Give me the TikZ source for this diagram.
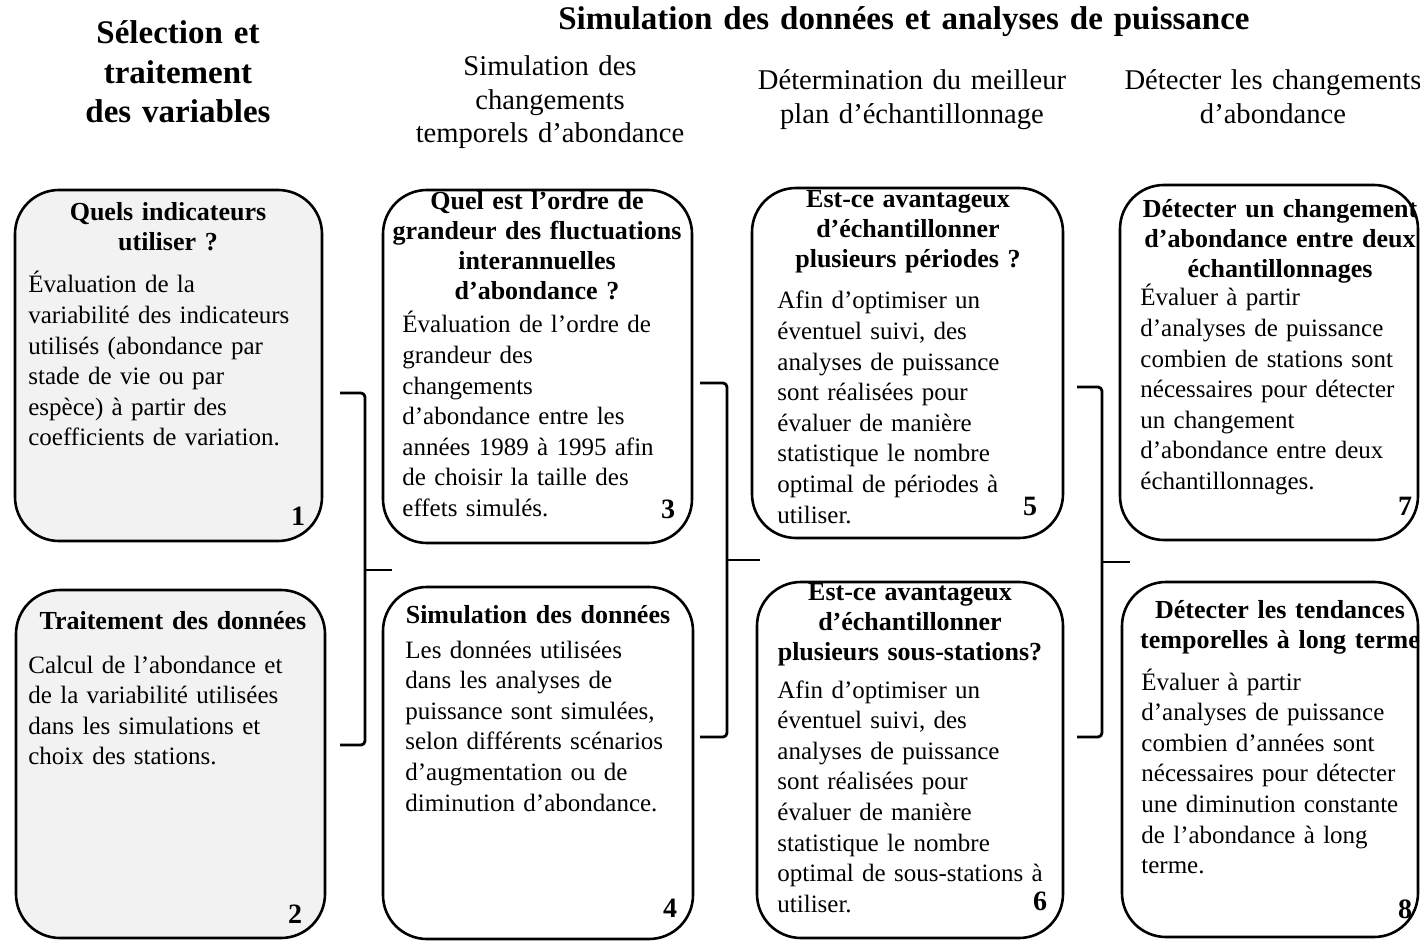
\documentclass[tikz,border=0pt]{standalone}
\usepackage{fontspec}
\setmainfont{Liberation Serif}
\usetikzlibrary{fit}
\newcommand{\bodysize}{\fontsize{12.5}{15.3}\selectfont}
\newcommand{\headsize}{\fontsize{13}{15}\selectfont\bfseries}
\begin{document}
\begin{tikzpicture}[x=0.5pt,y=-0.5pt,line join=round,
    panel/.style={draw,line width=1.3pt,rounded corners=22pt,inner sep=0pt},
    grey panel/.style={panel,fill=black!5},
    panel head/.style={anchor=base,inner sep=0pt,text width=160pt,align=center,font=\headsize},
    panel body/.style={anchor=base west,inner sep=0pt,text width=145pt,align=left,font=\bodysize},
    panel num/.style={anchor=base,inner sep=0pt,font=\fontsize{14}{14}\selectfont\bfseries},
    col head/.style={anchor=base,inner sep=0pt,align=center,font=\fontsize{16.5}{19.75}\selectfont\bfseries},
    col sub/.style={anchor=base,inner sep=0pt,align=center,font=\fontsize{14.3}{16.75}\selectfont},
    brace/.style={line width=1.4pt,rounded corners=2pt}]
  \useasboundingbox (0,0) rectangle (1420,941);

  % column titles
  \node[col head,text width=110pt] (selhead) at (178,44) {Sélection et\\traitement\\des variables};
  \node[col head,text width=360pt] (simhead) at (904,30) {Simulation des données et analyses de puissance};
  \node[col sub,text width=150pt] (sub1) at (550,76) {Simulation des\\changements\\temporels d'abondance};
  \node[col sub,text width=160pt] (sub2) at (912,90) {Détermination du meilleur\\plan d'échantillonnage};
  \node[col sub,text width=155pt] (sub3) at (1273,90) {Détecter les changements\\d'abondance};

  % panels
  \node[grey panel,fit={(15,190)(322,541)}] (p1) {};
  \node[grey panel,fit={(16,590)(325,938)}] (p2) {};
  \node[panel,fit={(383,190)(692,543)}] (p3) {};
  \node[panel,fit={(383,587)(693,939)}] (p4) {};
  \node[panel,fit={(752,188)(1063,538)}] (p5) {};
  \node[panel,fit={(757,582)(1063,938)}] (p6) {};
  \node[panel,fit={(1120,185)(1418,540)}] (p7) {};
  \node[panel,fit={(1122,582)(1418,937)}] (p8) {};

  % panel texts
  \node[panel head] (t1) at (168,221) {Quels indicateurs\\utiliser ?};
  \node[panel body] (d1) at (28,293) {Évaluation de la\\variabilité des indicateurs\\utilisés (abondance par\\stade de vie ou par\\espèce) à partir des\\coefficients de variation.};
  \node[panel head] (t2) at (173,629) {Traitement des données};
  \node[panel body] (d2) at (28,673) {Calcul de l'abondance et\\de la variabilité utilisées\\dans les simulations et\\choix des stations.};
  \node[panel head] (t3) at (537,210) {Quel est l'ordre de\\grandeur des fluctuations\\interannuelles\\d'abondance ?};
  \node[panel body] (d3) at (402,333) {Évaluation de l'ordre de\\grandeur des\\changements\\d'abondance entre les\\années 1989 à 1995 afin\\de choisir la taille des\\effets simulés.};
  \node[panel head] (t4) at (538,623) {Simulation des données};
  \node[panel body] (d4) at (405,658) {Les données utilisées\\dans les analyses de\\puissance sont simulées,\\selon différents scénarios\\d'augmentation ou de\\diminution d'abondance.};
  \node[panel head] (t5) at (908,208) {Est-ce avantageux\\d'échantillonner\\plusieurs périodes ?};
  \node[panel body] (d5) at (777,309) {Afin d'optimiser un\\éventuel suivi, des\\analyses de puissance\\sont réalisées pour\\évaluer de manière\\statistique le nombre\\optimal de périodes à\\utiliser.};
  \node[panel head] (t6) at (910,600) {Est-ce avantageux\\d'échantillonner\\plusieurs sous-stations?};
  \node[panel body] (d6) at (777,698) {Afin d'optimiser un\\éventuel suivi, des\\analyses de puissance\\sont réalisées pour\\évaluer de manière\\statistique le nombre\\optimal de sous-stations à\\utiliser.};
  \node[panel head] (t7) at (1280,218) {Détecter un changement\\d'abondance entre deux\\échantillonnages};
  \node[panel body] (d7) at (1140,306) {Évaluer à partir\\d'analyses de puissance\\combien de stations sont\\nécessaires pour détecter\\un changement\\d'abondance entre deux\\échantillonnages.};
  \node[panel head] (t8) at (1280,618) {Détecter les tendances\\temporelles à long terme};
  \node[panel body] (d8) at (1141,690) {Évaluer à partir\\d'analyses de puissance\\combien d'années sont\\nécessaires pour détecter\\une diminution constante\\de l'abondance à long\\terme.};

  % panel numbers
  \node[panel num] (n1) at (298,525) {1};
  \node[panel num] (n2) at (295,923) {2};
  \node[panel num] (n3) at (668,518) {3};
  \node[panel num] (n4) at (670,917) {4};
  \node[panel num] (n5) at (1030,515) {5};
  \node[panel num] (n6) at (1040,910) {6};
  \node[panel num] (n7) at (1405,515) {7};
  \node[panel num] (n8) at (1405,918) {8};

  % braces between the columns
  \coordinate (k1t) at (340,393);  \coordinate (k1m) at (365,570);
  \coordinate (k1b) at (340,745);  \coordinate (k1x) at (392,570);
  \coordinate (k2t) at (700,383);  \coordinate (k2m) at (727,560);
  \coordinate (k2b) at (700,737);  \coordinate (k2x) at (760,560);
  \coordinate (k3t) at (1077,387); \coordinate (k3m) at (1102,562);
  \coordinate (k3b) at (1077,737); \coordinate (k3x) at (1130,562);
  \draw[brace] (k1t) -| (k1m) |- (k1b);
  \draw[brace] (k1m) -- (k1x);
  \draw[brace] (k2t) -| (k2m) |- (k2b);
  \draw[brace] (k2m) -- (k2x);
  \draw[brace] (k3t) -| (k3m) |- (k3b);
  \draw[brace] (k3m) -- (k3x);
\end{tikzpicture}
\end{document}
